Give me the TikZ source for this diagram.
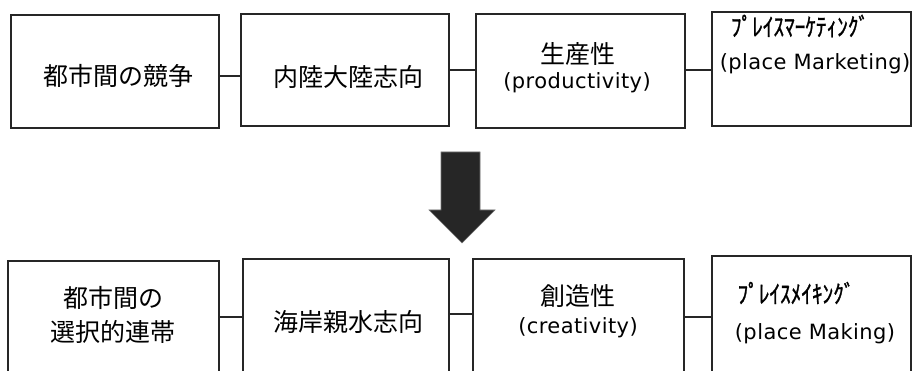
\documentclass[tikz,border=0pt]{standalone}
\usepackage{fontspec}
\newfontfamily\jp{Noto Sans CJK JP}
\newfontfamily\jpb{Noto Sans CJK JP}[BoldFont=*,FakeBold=1.2]
\newfontfamily\lt{DejaVu Sans}[LetterSpace=2]
\begin{document}
\begin{tikzpicture}[x=1pt,y=-1pt,
  box/.style={draw=black!85,line width=1.4pt,inner sep=0pt,fill=none},
  cjk/.style={font=\jp\fontsize{25}{28}\selectfont,inner sep=0pt,anchor=center},
  lat/.style={font=\lt\fontsize{21}{24}\selectfont,inner sep=0pt,anchor=center},
  kana/.style={font=\jpb\fontsize{25}{28}\selectfont,inner sep=0pt,anchor=center},
  conn/.style={draw=black!85,line width=1.4pt}]
\clip (0,0) rectangle (912,371);
% top row boxes
\node[box,minimum width=208pt,minimum height=113pt] (a1) at (115,71.5) {};
\node[box,minimum width=208pt,minimum height=112pt] (a2) at (345,70) {};
\node[box,minimum width=209pt,minimum height=114pt] (a3) at (580.5,71) {};
\node[box,minimum width=199pt,minimum height=114pt] (a4) at (811.5,69) {};
% bottom row boxes
\node[box,minimum width=211pt,minimum height=139pt] (b1) at (113.5,330.5) {};
\node[box,minimum width=206pt,minimum height=141pt] (b2) at (346,329.5) {};
\node[box,minimum width=211pt,minimum height=141pt] (b3) at (578.5,329.5) {};
\node[box,minimum width=199pt,minimum height=144pt] (b4) at (811.5,328) {};
% top texts
\node[cjk] (ta1) at (118,76) {都市間の競争};
\node[cjk] (ta2) at (348,77) {内陸大陸志向};
\node[cjk] (ta3a) at (578,54) {生産性};
\node[lat] (ta3b) at (577,83) {(productivity)};
\node[kana] (ta4a) at (800,26) {\scalebox{0.85}[1]{ﾌﾟﾚｲｽﾏｰｹﾃｨﾝｸﾞ}};
\node[lat] (ta4b) at (815,64) {(place Marketing)};
% bottom texts
\node[cjk] (tb1a) at (113,298) {都市間の};
\node[cjk] (tb1b) at (113,332) {選択的連帯};
\node[cjk] (tb2) at (348,322) {海岸親水志向};
\node[cjk] (tb3a) at (578,296) {創造性};
\node[lat] (tb3b) at (578,328) {(creativity)};
\node[kana] (tb4a) at (796,293) {\scalebox{0.85}[1]{ﾌﾟﾚｲｽﾒｲｷﾝｸﾞ}};
\node[lat] (tb4b) at (815,334) {(place Making)};
% connectors
\draw[conn] (a1.east |- 0,76) -- (a2.west |- 0,76);
\draw[conn] (a2.east |- 0,70) -- (a3.west |- 0,70);
\draw[conn] (a3.east |- 0,70) -- (a4.west |- 0,70);
\draw[conn] (b1.east |- 0,317) -- (b2.west |- 0,317);
\draw[conn] (b2.east |- 0,314) -- (b3.west |- 0,314);
\draw[conn] (b3.east |- 0,317) -- (b4.west |- 0,317);
% block arrow
\draw[draw=black!55,fill=black!85,line width=0.6pt]
  (441,152) -- (480,152) -- (480,210) -- (495,210) -- (462,243) -- (429,210) -- (441,210) -- cycle;
\end{tikzpicture}
\end{document}
